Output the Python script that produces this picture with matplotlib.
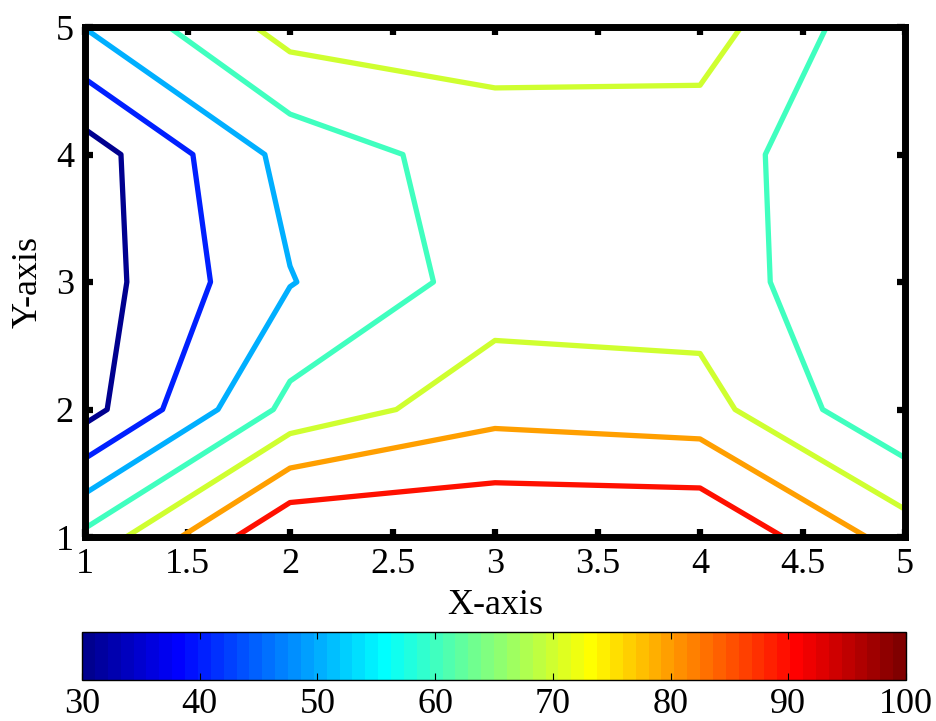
import numpy as np
import matplotlib
matplotlib.use('Agg')
import matplotlib.pyplot as plt
from matplotlib.cm import ScalarMappable
from matplotlib.colors import Normalize, ListedColormap

plt.rcParams['font.family'] = ['Liberation Serif', 'DejaVu Serif']

x_vals = [1, 2, 3, 4, 5]
y_vals = [1, 2, 3, 4, 5]
row_y1 = [62.5, 100, 100, 100, 75.4]
row_y2 = [26, 63, 76.5, 74, 50.6]
row_y3 = [25, 49.5, 64.5, 64.9, 50.6]
row_y4 = [25, 53.5, 65.3, 64.3, 50.8]
row_y5 = [50.3, 74, 74.3, 74.8, 50.8]
levels = [30, 40, 50, 60, 70, 80, 90]
cbar_ticks = [30, 40, 50, 60, 70, 80, 90, 100]


def matlab_jet(n=64):
    # same construction as MATLAB's jet(n)
    m = int(np.ceil(n / 4))
    u = np.concatenate([np.arange(1, m + 1) / m, np.ones(m - 1), np.arange(m, 0, -1) / m])
    g = int(np.ceil(m / 2)) - (1 if n % 4 == 1 else 0) + np.arange(1, len(u) + 1)
    r = g + m
    b = g - m
    J = np.zeros((n, 3))
    ok = r <= n
    J[r[ok] - 1, 0] = u[ok]
    ok = g <= n
    J[g[ok] - 1, 1] = u[ok]
    ok = b >= 1
    J[b[ok] - 1, 2] = u[ok]
    return ListedColormap(J)


Z = np.array([row_y1, row_y2, row_y3, row_y4, row_y5])
X, Y = np.meshgrid(x_vals, y_vals)

cmap = matlab_jet(64)
norm = Normalize(vmin=30, vmax=100)

fig = plt.figure(figsize=(9.36, 7.21), dpi=100)
ax = fig.add_axes([85/936, 1 - 537/721, 820/936, 510/721])

ax.contour(X, Y, Z, levels=levels, cmap=cmap, norm=norm, linewidths=3.8)

ax.set_xlim(1, 5)
ax.set_ylim(1, 5)
ax.set_xticks([1, 1.5, 2, 2.5, 3, 3.5, 4, 4.5, 5])
ax.set_xticklabels(['1', '1.5', '2', '2.5', '3', '3.5', '4', '4.5', '5'])
ax.set_yticks([1, 2, 3, 4, 5])
ax.tick_params(direction='in', top=True, right=True, length=5.5, width=4.5,
               labelsize=26, pad=8)
for sp in ax.spines.values():
    sp.set_linewidth(5)
    sp.set_zorder(5)
ax.set_xlabel('X-axis', fontsize=26, labelpad=6)
ax.set_ylabel('Y-axis', fontsize=26, labelpad=8)

# colorbar
cax = fig.add_axes([82/936, 1 - 680/721, 824/936, 48/721])
sm = ScalarMappable(norm=norm, cmap=cmap)
cb = fig.colorbar(sm, cax=cax, orientation='horizontal', ticks=cbar_ticks)
cb.outline.set_linewidth(1)
cax.tick_params(direction='in', top=True, bottom=True, length=5, width=0.8,
                labelsize=26, pad=6)

fig.savefig('out.png', dpi=100)
